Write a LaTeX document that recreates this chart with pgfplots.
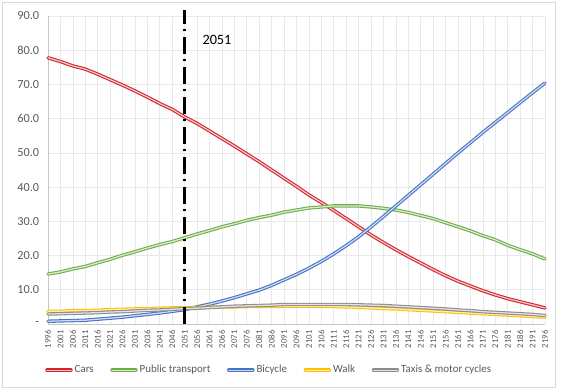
\documentclass[border=0pt]{standalone}
\usepackage{fontspec}
\setmainfont{Carlito}
\usepackage{pgfplots}
\pgfplotsset{compat=1.18}
\usepackage{pgfplotstable}

\definecolor{carsc}{HTML}{D2232A}
\definecolor{ptc}{HTML}{70AD47}
\definecolor{bikec}{HTML}{4472C4}
\definecolor{walkc}{HTML}{FFC000}
\definecolor{taxic}{HTML}{A5A5A5}
\definecolor{labelgray}{HTML}{595959}

\pgfplotstableread{
year cars pt bike walk taxi
1996 77.8 14.6 0.8 3.7 2.9
2001 76.7 15.2 0.9 3.7 3.0
2006 75.4 16.1 1.0 3.9 3.1
2011 74.5 16.8 1.1 3.9 3.2
2016 73.0 17.9 1.4 4.0 3.3
2021 71.4 18.9 1.7 4.2 3.5
2026 69.8 20.1 2.0 4.3 3.6
2031 68.1 21.1 2.4 4.4 3.8
2036 66.3 22.2 2.8 4.5 4.0
2041 64.4 23.2 3.2 4.6 4.1
2046 62.7 24.1 3.7 4.7 4.3
2051 60.5 25.2 4.2 4.8 4.5
2056 58.6 26.3 5.0 4.8 4.6
2061 56.4 27.3 5.8 4.9 4.8
2066 54.2 28.4 6.7 5.0 5.0
2071 52.0 29.3 7.7 5.0 5.2
2076 49.7 30.3 8.8 5.1 5.3
2081 47.4 31.1 9.9 5.1 5.4
2086 45.0 31.8 11.3 5.1 5.5
2091 42.6 32.7 12.9 5.2 5.7
2096 40.2 33.3 14.5 5.2 5.7
2101 37.7 33.9 16.3 5.2 5.7
2106 35.5 34.2 18.3 5.2 5.7
2111 33.2 34.5 20.5 5.1 5.7
2116 30.8 34.5 22.9 5.0 5.7
2121 28.4 34.5 25.5 4.9 5.6
2126 26.0 34.2 28.4 4.7 5.5
2131 23.8 33.8 31.4 4.5 5.4
2136 21.7 33.3 34.5 4.4 5.2
2141 19.7 32.6 37.6 4.2 5.0
2146 17.8 31.7 40.7 4.0 4.8
2151 15.9 30.8 43.8 3.8 4.6
2156 14.1 29.6 46.9 3.6 4.4
2161 12.5 28.4 50.0 3.4 4.1
2166 11.1 27.2 53.0 3.2 3.9
2171 9.7 25.8 56.0 3.0 3.6
2176 8.5 24.6 58.9 2.8 3.4
2181 7.4 23.0 61.8 2.6 3.2
2186 6.5 21.7 64.7 2.4 3.0
2191 5.6 20.5 67.6 2.2 2.8
2196 4.7 19.0 70.4 2.0 2.5
}\data

\tikzset{dbl/.style={draw=#1, double=#1!25!white, double distance=0.95pt, line width=0.8pt, line join=round, line cap=round}}

\begin{document}
\begin{tikzpicture}
\begin{axis}[
  scale only axis, width=372.75pt, height=231pt,
  xmin=1996, xmax=2196, ymin=0, ymax=90,
  clip=false,
  axis x line*=bottom, axis y line*=left,
  axis line style={draw=gray!45, line width=0.6pt, -},
  major tick length=0pt,
  xtick={1996,2001,...,2196},
  ytick={0,10,...,90},
  yticklabel={\ifdim\tick pt<1pt\relax-\hspace{4pt}\else\pgfmathprintnumber[fixed,fixed zerofill,precision=1]{\tick}\fi},
  grid=major,
  major grid style={draw=gray!17, line width=0.5pt},
  /pgf/number format/assume math mode=true,
  /pgf/number format/set thousands separator={},
  x tick label style={rotate=90, anchor=east, font=\fontsize{6.6}{7}\selectfont, text=labelgray, inner sep=1pt},
  xticklabel shift=3.5pt,
  y tick label style={anchor=east, font=\fontsize{9.2}{10}\selectfont, text=labelgray, inner sep=0pt},
  yticklabel shift=6.5pt,
  legend columns=5,
  legend style={draw=none, fill=none, at={(-0.006,-0.15)}, anchor=west, inner sep=0pt,
    font=\fontsize{8.2}{9}\selectfont, text=labelgray,
    /tikz/every even column/.append style={column sep=11pt},
    nodes={inner xsep=1.5pt}},
  legend image code/.code={\draw[#1] (0pt,0pt) -- (18pt,0pt);},
]
\addplot[dbl=carsc] table[x=year,y=cars] {\data};
\addlegendentry{Cars}
\addplot[dbl=ptc] table[x=year,y=pt] {\data};
\addlegendentry{Public transport}
\addplot[dbl=bikec] table[x=year,y=bike] {\data};
\addlegendentry{Bicycle}
\addplot[dbl=walkc] table[x=year,y=walk] {\data};
\addlegendentry{Walk}
\addplot[dbl=taxic!85!black] table[x=year,y=taxi] {\data};
\addlegendentry{Taxis \& motor cycles}
\addplot[black, line width=2pt, dash pattern=on 13pt off 4pt on 1.5pt off 4pt, forget plot] coordinates {(2051,0) (2051,91.8)};
\node[font=\fontsize{10.7}{12}\selectfont, text=black] at (axis cs:2064,83) {2051};
\draw[gray!30, line width=0.75pt] ([xshift=-33.75pt,yshift=-48pt]rel axis cs:0,0) rectangle ([xshift=7.5pt,yshift=9.75pt]rel axis cs:1,1);
\path ([xshift=-36pt,yshift=-51pt]rel axis cs:0,0) rectangle ([xshift=13.5pt,yshift=12pt]rel axis cs:1,1);
\end{axis}
\end{tikzpicture}
\end{document}
